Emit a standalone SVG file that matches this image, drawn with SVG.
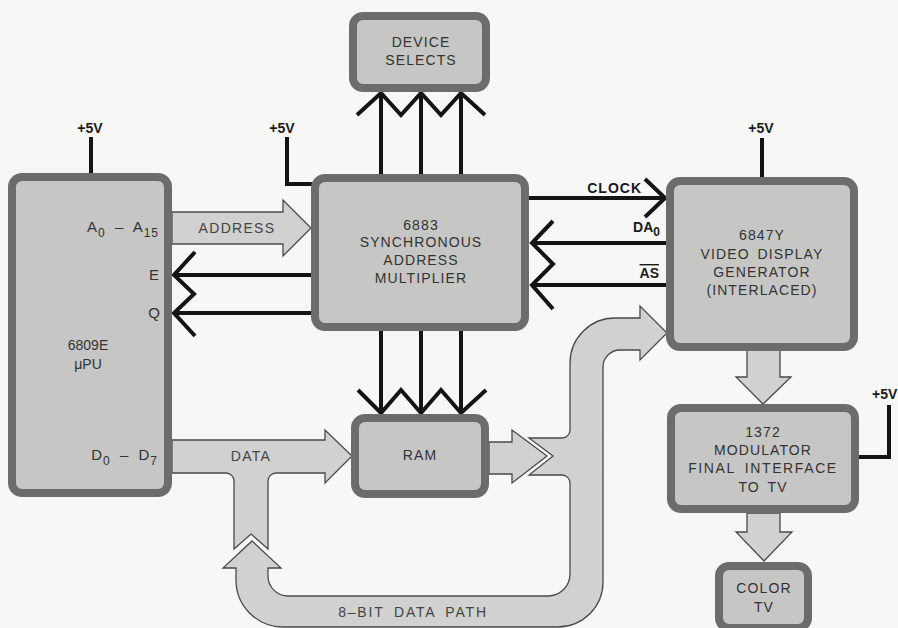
<svg xmlns="http://www.w3.org/2000/svg" width="898" height="628" viewBox="0 0 898 628">
<style>
.blk{fill:#c6c6c4;stroke:#6c6c6a;stroke-width:8}
.band{fill:#d1d1cf;stroke:#4a4a4a;stroke-width:1.3;stroke-linejoin:miter}
.sig{fill:none;stroke:#141414;stroke-width:4;stroke-linejoin:miter;stroke-linecap:butt}
.t{font-family:"Liberation Sans",Arial,sans-serif;font-size:14px;fill:#333;text-anchor:middle;letter-spacing:1.1px}
.lb{font-family:"Liberation Sans",Arial,sans-serif;font-size:14px;fill:#1a1a1a;font-weight:bold}
.pin{font-family:"Liberation Sans",Arial,sans-serif;font-size:15px;fill:#333;text-anchor:end}
.bl{font-family:"Liberation Sans",Arial,sans-serif;font-size:14px;fill:#444;text-anchor:middle;letter-spacing:1.3px}
</style>
<rect width="898" height="628" fill="#f7f7f5"/>
<g id="connectors">
  <path id="address-bus" class="band" d="M172,212 L283,212 L283,200 L311,228 L283,256 L283,244 L172,244 Z"/>
  <path id="data-bus" class="band" d="M172,440 L325,440 L325,430 L352,456 L325,483 L325,473 L276,473 A8 8 0 0 0 268,481 L268,549 L251,534 L234,549 L234,481 A8 8 0 0 0 226,473 L172,473 Z"/>
  <path id="ram-out" class="band" d="M489,442 L512,442 L512,430 L547,456 L512,483 L512,474 L489,474 Z"/>
  <path id="data-path-8bit" class="band" d="M252,541 L281,568 L268,568 L268,576 A20 20 0 0 0 288,596 L548,596 A22 22 0 0 0 570,574 L570,483 A8 8 0 0 0 562,475 L529,475 L553,456 L529,438 L562,438 A8 8 0 0 0 570,430 L570,363 A45 45 0 0 1 615,318 L640,318 L640,306 L667,333 L640,360 L640,350 L620,350 A17 17 0 0 0 603,367 L603,582 A45 45 0 0 1 558,627 L283,627 A47 47 0 0 1 236,580 L236,568 L223,568 Z"/>
  <path id="vdg-to-mod" class="band" d="M747,350 L780,350 L780,377 L791,377 L763,404 L736,377 L747,377 Z"/>
  <path id="mod-to-tv" class="band" d="M747,513 L780,513 L780,532 L792,532 L764,561 L736,532 L747,532 Z"/>
  <path class="sig" d="M381,174 V95 M421,174 V95 M461,174 V95"/>
  <polyline class="sig" points="357,115 381,93 401,115 421,93 441,115 461,93 485,115"/>
  <path class="sig" d="M381,329 V411 M421,329 V411 M461,329 V411"/>
  <polyline class="sig" points="358,390 381,413 401,390 421,413 441,390 461,413 486,390"/>
  <path class="sig" d="M176,275 H312 M176,313 H312"/>
  <polyline class="sig" points="195,252 174,275 194,294 174,313 195,336"/>
  <path class="sig" d="M528,198 H663"/>
  <polyline class="sig" points="645,179 665,198 645,217"/>
  <path class="sig" d="M534,243 H667 M534,285 H667"/>
  <polyline class="sig" points="553,221 532,243 553,264 532,285 553,309"/>
  <path class="sig" d="M91,137 V175"/>
  <polyline class="sig" points="287,137 287,184 312,184"/>
  <path class="sig" d="M762,138 V178"/>
  <polyline class="sig" points="889,405 889,457 858,457"/>
</g>
<g id="cpu">
  <rect class="blk" x="12" y="177" width="156" height="316" rx="10"/>
  <text class="t" x="88" y="350" style="letter-spacing:0">6809E</text>
  <text class="t" x="88" y="369" style="letter-spacing:0">μPU</text>
  <text class="pin" x="159" y="232" style="letter-spacing:1px;word-spacing:4px">A<tspan font-size="12" dy="5">0</tspan><tspan dy="-5"> – A</tspan><tspan font-size="12" dy="5">15</tspan></text>
  <text class="pin" x="159" y="280">E</text>
  <text class="pin" x="160" y="318">Q</text>
  <text class="pin" x="158" y="460" style="letter-spacing:1px;word-spacing:4px">D<tspan font-size="12" dy="5">0</tspan><tspan dy="-5"> – D</tspan><tspan font-size="12" dy="5">7</tspan></text>
</g>
<g id="sam">
  <rect class="blk" x="315" y="178" width="210" height="149" rx="10"/>
  <text class="t" x="421" y="230">6883</text>
  <text class="t" x="421" y="247">SYNCHRONOUS</text>
  <text class="t" x="421" y="265">ADDRESS</text>
  <text class="t" x="421" y="283">MULTIPLIER</text>
</g>
<g id="device-selects">
  <rect class="blk" x="353" y="16" width="133" height="72" rx="10"/>
  <text class="t" x="421" y="47">DEVICE</text>
  <text class="t" x="421" y="65">SELECTS</text>
</g>
<g id="ram">
  <rect class="blk" x="355" y="418" width="130" height="76" rx="10"/>
  <text class="t" x="420" y="460">RAM</text>
</g>
<g id="vdg">
  <rect class="blk" x="670" y="181" width="184" height="166" rx="10"/>
  <text class="t" x="762" y="240">6847Y</text>
  <text class="t" x="762" y="259" style="word-spacing:3px">VIDEO DISPLAY</text>
  <text class="t" x="762" y="277">GENERATOR</text>
  <text class="t" x="762" y="295">(INTERLACED)</text>
</g>
<g id="modulator">
  <rect class="blk" x="671" y="408" width="184" height="101" rx="10"/>
  <text class="t" x="763" y="437">1372</text>
  <text class="t" x="763" y="455">MODULATOR</text>
  <text class="t" x="763" y="473" style="letter-spacing:1.6px;word-spacing:4px">FINAL INTERFACE</text>
  <text class="t" x="763" y="492" style="word-spacing:3px">TO TV</text>
</g>
<g id="color-tv">
  <rect class="blk" x="719" y="566" width="89" height="62" rx="10"/>
  <text class="t" x="764" y="593">COLOR</text>
  <text class="t" x="764" y="612">TV</text>
</g>
<g id="labels">
  <text class="lb" x="90" y="133" text-anchor="middle">+5V</text>
  <text class="lb" x="282" y="133" text-anchor="middle">+5V</text>
  <text class="lb" x="761" y="133" text-anchor="middle">+5V</text>
  <text class="lb" x="872" y="399">+5V</text>
  <text class="bl" x="237" y="233">ADDRESS</text>
  <text class="bl" x="251" y="461">DATA</text>
  <text class="bl" x="413" y="617" style="letter-spacing:1.8px;word-spacing:4px">8–BIT DATA PATH</text>
  <text class="lb" x="642" y="193" text-anchor="end" style="letter-spacing:1px">CLOCK</text>
  <text class="lb" x="660" y="232" text-anchor="end">DA<tspan font-size="12" dy="4">0</tspan></text>
  <text class="lb" x="659" y="278" text-anchor="end" text-decoration="overline">AS</text>
</g>
</svg>
